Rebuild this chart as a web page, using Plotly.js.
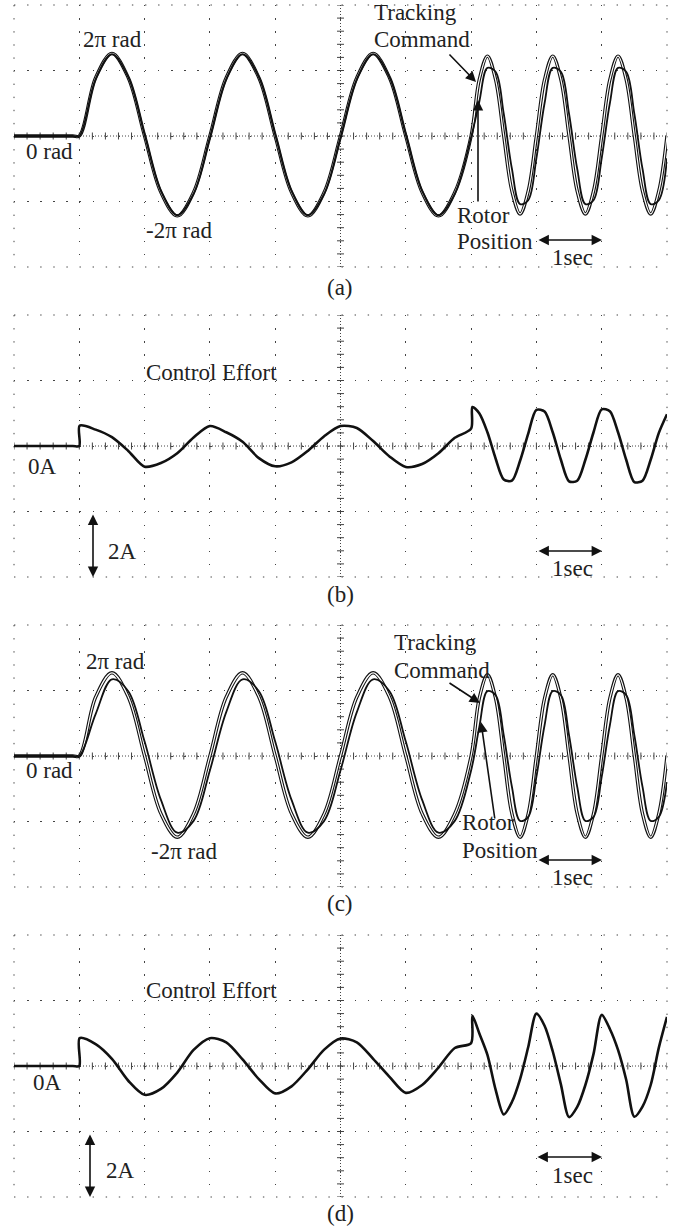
<!DOCTYPE html>
<html><head><meta charset="utf-8">
<script src="https://cdn.plot.ly/plotly-3.0.1.min.js"></script>
<style>html,body{margin:0;padding:0;background:#fff;} #chart{width:678px;height:1230px;}</style>
</head><body><div id="chart"></div>
<script>
// ---- data (time in seconds = scope divisions) ----
const tPos = [0, 0.9, 1, 1.25, 1.5, 1.75, 2, 2.25, 2.5, 2.75, 3, 3.25, 3.5, 3.75, 4, 4.25, 4.5, 4.75, 5,
  5.25, 5.5, 5.75, 6, 6.25, 6.5, 6.75, 7, 7.125, 7.25, 7.375, 7.5, 7.625, 7.75, 7.875, 8,
  8.125, 8.25, 8.375, 8.5, 8.625, 8.75, 8.875, 9, 9.125, 9.25, 9.375, 9.5, 9.625, 9.75, 9.875, 10];
// position in rad
const cmdA = [0, 0, 0,
  4.45, 6.3, 4.45, 0, -4.3, -6.1, -4.3, 0,
  4.45, 6.3, 4.45, 0, -4.3, -6.1, -4.3, 0,
  4.45, 6.3, 4.45, 0, -4.3, -6.1, -4.3, 0,
  4.3, 6.1, 4.3, 0, -4.2, -5.95, -4.2, 0,
  4.3, 6.1, 4.3, 0, -4.2, -5.95, -4.2, 0,
  4.3, 6.1, 4.3, 0, -4.2, -5.95, -4.2, 0];
const rotA = [0, 0, 0,
  4.35, 6.25, 4.5, 0.1, -4.2, -6.05, -4.4, -0.1,
  4.35, 6.25, 4.5, 0.1, -4.2, -6.05, -4.4, -0.1,
  4.35, 6.25, 4.5, 0.1, -4.2, -6.05, -4.4, -0.1,
  2.6, 5.2, 4.9, 1.7, -2.5, -5.2, -4.9, -1.7,
  2.5, 5.2, 4.9, 1.7, -2.5, -5.2, -4.9, -1.7,
  2.5, 5.2, 4.9, 1.7, -2.5, -5.2, -4.9, -1.7];
const cmdC = [0, 0, 0,
  4.5, 6.35, 4.5, 0, -4.4, -6.2, -4.4, 0,
  4.5, 6.35, 4.5, 0, -4.4, -6.2, -4.4, 0,
  4.5, 6.35, 4.5, 0, -4.4, -6.2, -4.4, 0,
  4.4, 6.2, 4.4, 0, -4.4, -6.2, -4.4, 0,
  4.4, 6.2, 4.4, 0, -4.4, -6.2, -4.4, 0,
  4.4, 6.2, 4.4, 0, -4.4, -6.2, -4.4, 0];
const rotC = [0, 0, 0,
  3.2, 5.85, 4.95, 1.1, -3.35, -5.85, -4.95, -1.1,
  3.35, 5.85, 4.95, 1.1, -3.35, -5.85, -4.95, -1.1,
  3.35, 5.85, 4.95, 1.1, -3.35, -5.85, -4.95, -1.1,
  2.2, 4.95, 4.65, 1.6, -2.35, -4.95, -4.65, -1.6,
  2.35, 4.95, 4.65, 1.6, -2.35, -4.95, -4.65, -1.6,
  2.35, 4.95, 4.65, 1.6, -2.35, -4.95, -4.65, -2.0];
// control effort in A
const tCur = [0, 0.9, 1, 1.005, 1.25, 1.5, 1.75, 2, 2.25, 2.5, 2.75, 3, 3.25, 3.5, 3.75, 4, 4.25, 4.5, 4.75, 5,
  5.25, 5.5, 5.75, 6, 6.25, 6.5, 6.75, 7, 7.02, 7.125, 7.25, 7.375, 7.5, 7.625, 7.75, 7.875, 8,
  8.125, 8.25, 8.375, 8.5, 8.625, 8.75, 8.875, 9, 9.125, 9.25, 9.375, 9.5, 9.625, 9.75, 9.875, 10];
const curB = [0, 0, 0, 0.62,
  0.50, 0.27, -0.15, -0.63, -0.52, -0.22, 0.26, 0.61,
  0.42, 0.13, -0.37, -0.62, -0.50, -0.15, 0.30, 0.61,
  0.55, 0.15, -0.32, -0.64, -0.55, -0.22, 0.25, 0.53,
  1.19,
  1.00, 0.42, -0.38, -1.02, -1.06, -0.45, 0.38, 1.10,
  1.05, 0.42, -0.42, -1.08, -1.06, -0.42, 0.42, 1.12,
  1.06, 0.42, -0.42, -1.10, -1.06, -0.42, 0.40, 0.97];
const curD = [0, 0, 0, 0.85,
  0.67, 0.22, -0.45, -0.88, -0.70, -0.20, 0.49, 0.85,
  0.72, 0.20, -0.40, -0.84, -0.62, -0.10, 0.50, 0.84,
  0.72, 0.22, -0.33, -0.82, -0.58, -0.05, 0.55, 0.70,
  1.53,
  1.00, 0.34, -0.72, -1.48, -1.10, -0.40, 0.58, 1.60,
  1.23, 0.45, -0.56, -1.56, -1.25, -0.58, 0.37, 1.56,
  1.13, 0.49, -0.42, -1.55, -1.24, -0.58, 0.56, 1.50];
const panelLabels = ['(a)', '(b)', '(c)', '(d)'];

// ---- layout ----
const W = 678, H = 1230;
const FONT = {family: 'Liberation Serif, Times New Roman, serif', size: 23, color: '#222'};
const GRIDC = '#444';
const DOTS = '1.4px,11.7px';
const panels = [
  {top: 5, bottom: 267, kind: 'pos', cmd: cmdA, rot: rotA, cap: 287},
  {top: 315, bottom: 577, kind: 'cur', cur: curB, cap: 594},
  {top: 625, bottom: 887, kind: 'pos', cmd: cmdC, rot: rotC, cap: 903},
  {top: 935, bottom: 1197, kind: 'cur', cur: curD, cap: 1213}
];
const xDom = [14 / W, 667 / W];
const layout = {width: W, height: H, margin: {l: 0, r: 0, t: 0, b: 0},
  paper_bgcolor: '#fff', plot_bgcolor: '#fff', showlegend: false, shapes: [], annotations: []};
const traces = [];

function txt(s, x, y, anchor) {
  layout.annotations.push({text: s, x: x / W, y: 1 - y / H, xref: 'paper', yref: 'paper',
    showarrow: false, xanchor: anchor || 'left', yanchor: 'middle', font: FONT, borderpad: 0});
}
function arrow(x1, y1, x2, y2, both) {
  layout.annotations.push({text: '', x: x2 / W, y: 1 - y2 / H, xref: 'paper', yref: 'paper',
    ax: x1 - x2, ay: y1 - y2, axref: 'pixel', ayref: 'pixel', showarrow: true,
    arrowhead: 2, arrowsize: 1.3, arrowwidth: 1.6, arrowcolor: '#111',
    arrowside: both ? 'end+start' : 'end', standoff: 0, startstandoff: 0});
}

panels.forEach((p, i) => {
  const s = i === 0 ? '' : String(i + 1);
  const xd = 'x' + s + ' domain', yd = 'y' + s + ' domain';
  const yr = p.kind === 'pos' ? 10 : 4;
  const common = {showgrid: true, gridcolor: GRIDC, gridwidth: 1, griddash: DOTS,
    zeroline: false, showline: false, showticklabels: false, ticks: '', fixedrange: true};
  layout['xaxis' + s] = Object.assign({domain: xDom, range: [0, 10], tick0: 0, dtick: 1, anchor: 'y' + s}, common);
  layout['yaxis' + s] = Object.assign({domain: [1 - p.bottom / H, 1 - p.top / H], range: [-yr, yr],
    tick0: 0, dtick: yr / 2, anchor: 'x' + s}, common);
  // dotted frame of the graticule
  const fl = {color: GRIDC, width: 1, dash: DOTS};
  layout.shapes.push({type: 'line', xref: xd, yref: yd, x0: 0, x1: 1, y0: 1, y1: 1, line: fl, layer: 'below'});
  layout.shapes.push({type: 'line', xref: xd, yref: yd, x0: 0, x1: 1, y0: 0, y1: 0, line: fl, layer: 'below'});
  layout.shapes.push({type: 'line', xref: xd, yref: yd, x0: 0, x1: 0, y0: 1, y1: 0, line: fl, layer: 'below'});
  layout.shapes.push({type: 'line', xref: xd, yref: yd, x0: 1, x1: 1, y0: 1, y1: 0, line: fl, layer: 'below'});
  // dense centre lines of the graticule
  layout.shapes.push({type: 'line', xref: xd, yref: 'y' + s, x0: 0, x1: 1, y0: 0, y1: 0,
    line: {color: GRIDC, width: 1, dash: '1px,2px'}, layer: 'below'});
  layout.shapes.push({type: 'line', xref: 'x' + s, yref: yd, x0: 5, x1: 5, y0: 0, y1: 1,
    line: {color: GRIDC, width: 1, dash: '1px,2px'}, layer: 'below'});
  // minor tick marks on the centre lines
  const hx = [], hy = [], vx = [], vy = [];
  for (let k = 0; k <= 50; k++) { hx.push(k * 0.2); hy.push(0); }
  for (let k = 0; k <= 20; k++) { vx.push(5); vy.push(-yr + k * yr / 10); }
  traces.push({x: hx, y: hy, xaxis: 'x' + s, yaxis: 'y' + s, mode: 'markers', hoverinfo: 'skip',
    marker: {symbol: 'line-ns', size: 5, line: {width: 1, color: GRIDC}}});
  traces.push({x: vx, y: vy, xaxis: 'x' + s, yaxis: 'y' + s, mode: 'markers', hoverinfo: 'skip',
    marker: {symbol: 'line-ew', size: 5, line: {width: 1, color: GRIDC}}});

  if (p.kind === 'pos') {
    traces.push({x: tPos, y: p.cmd, xaxis: 'x' + s, yaxis: 'y' + s, mode: 'lines',
      line: {color: '#111', width: 3.4, shape: 'spline', smoothing: 1}});
    traces.push({x: tPos, y: p.cmd, xaxis: 'x' + s, yaxis: 'y' + s, mode: 'lines',
      line: {color: '#fff', width: 1.2, shape: 'spline', smoothing: 1}});
    traces.push({x: tPos, y: p.rot, xaxis: 'x' + s, yaxis: 'y' + s, mode: 'lines',
      line: {color: '#111', width: 1.8, shape: 'spline', smoothing: 1}});
  } else {
    traces.push({x: tCur, y: p.cur, xaxis: 'x' + s, yaxis: 'y' + s, mode: 'lines',
      line: {color: '#111', width: 2.6, shape: 'spline', smoothing: 0.8}});
  }
  txt(panelLabels[i], 340, p.cap, 'center');
});

// (a)
txt('2π rad', 82, 40); txt('0 rad', 25, 151); txt('-2π rad', 145, 230);
txt('Tracking', 373, 12); txt('Command', 373, 40);
txt('Rotor', 456, 215); txt('Position', 456, 241); txt('1sec', 551, 257);
arrow(448, 53, 476, 82); arrow(478, 203, 478, 100); arrow(537, 240, 602, 240, true);
// (b)
txt('Control Effort', 145, 372); txt('0A', 27, 467); txt('2A', 107, 551); txt('1sec', 551, 568);
arrow(93, 513, 93, 577, true); arrow(537, 551, 602, 551, true);
// (c)
txt('2π rad', 85, 661); txt('-2π rad', 150, 851); txt('0 rad', 25, 770);
txt('Tracking', 393, 643); txt('Command', 393, 670);
txt('Rotor', 461, 822); txt('Position', 461, 850); txt('1sec', 551, 877);
arrow(448, 682, 480, 703); arrow(495, 820, 481, 722); arrow(537, 860, 602, 860, true);
// (d)
txt('Control Effort', 145, 990); txt('0A', 32, 1082); txt('2A', 105, 1170); txt('1sec', 551, 1175);
arrow(90, 1133, 90, 1197, true); arrow(536, 1157, 602, 1157, true);

Plotly.newPlot('chart', traces, layout, {displayModeBar: false, staticPlot: true});
</script>
</body></html>
